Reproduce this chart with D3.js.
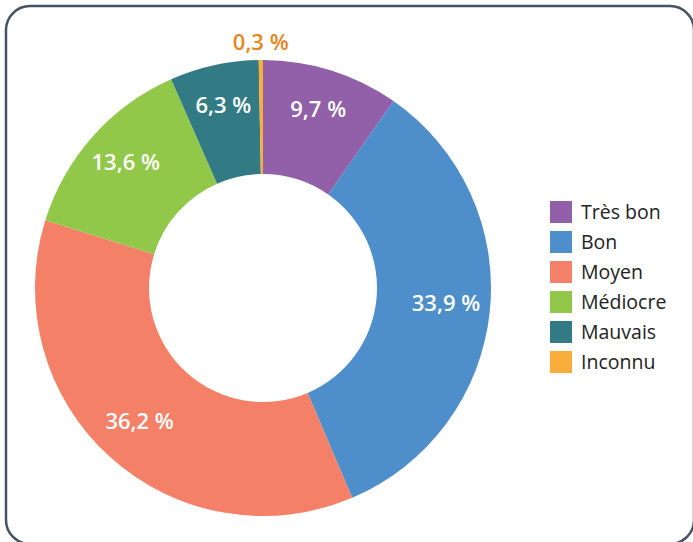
<!DOCTYPE html>
<html lang="fr">
<head>
<meta charset="UTF-8">
<title>Donut</title>
<script src="https://cdn.jsdelivr.net/npm/d3@7"></script>
<style>
  body { margin: 0; background: #fff; }
  svg text { font-family: "Open Sans", "Noto Sans", sans-serif; }
</style>
</head>
<body>
<div class="chart"></div>
<script>
  const categories = ["Très bon", "Bon", "Moyen", "Médiocre", "Mauvais", "Inconnu"];
  const values = [9.7, 33.9, 36.2, 13.6, 6.3, 0.3];
  const colors = ["#9160a8", "#4e8fcb", "#f38067", "#92c84a", "#337b84", "#f9ae3c"];

  const W = 693, H = 542;
  const cx = 263, cy = 288, outerR = 228, innerR = 114;

  const svg = d3.select('.chart').append('svg')
    .attr('width', W).attr('height', H);

  // frame
  svg.append('rect')
    .attr('x', 6).attr('y', 6).attr('width', 688).attr('height', 538)
    .attr('rx', 24).attr('ry', 24)
    .attr('fill', '#fff').attr('stroke', '#465264').attr('stroke-width', 2.5);

  const data = categories.map((c, i) => ({cat: c, value: values[i], color: colors[i]}));
  const pie = d3.pie().value(d => d.value).sort(null);
  const arc = d3.arc().innerRadius(innerR).outerRadius(outerR);
  const labelArc = d3.arc().innerRadius(184).outerRadius(184);
  const outArc = d3.arc().innerRadius(242).outerRadius(242);

  const g = svg.append('g').attr('transform', `translate(${cx} ${cy})`);
  const arcs = pie(data);

  g.selectAll('path').data(arcs).enter().append('path')
    .attr('d', arc)
    .attr('fill', d => d.data.color);

  const fmt = v => d3.format('.1f')(v).replace('.', ',') + ' %';

  g.selectAll('.lbl').data(arcs).enter().append('text')
    .attr('class', 'lbl')
    .attr('transform', d => `translate(${(d.data.value < 1 ? outArc : labelArc).centroid(d)})`)
    .attr('text-anchor', 'middle')
    .attr('dy', '0.2em')
    .attr('font-size', 22)
    .attr('font-weight', 600)
    .attr('fill', d => d.data.value < 1 ? '#e8861e' : '#fff')
    .text(d => fmt(d.data.value));

  // legend
  const leg = svg.append('g').attr('transform', 'translate(550 201)');
  const items = leg.selectAll('g').data(data).enter().append('g')
    .attr('transform', (d, i) => `translate(0 ${i * 30})`);
  items.append('rect').attr('width', 22).attr('height', 22).attr('fill', d => d.color);
  items.append('text')
    .attr('x', 31).attr('y', 11).attr('dy', '0.36em')
    .attr('font-size', 19.5).attr('fill', '#222')
    .text(d => d.cat);
</script>
</body>
</html>
